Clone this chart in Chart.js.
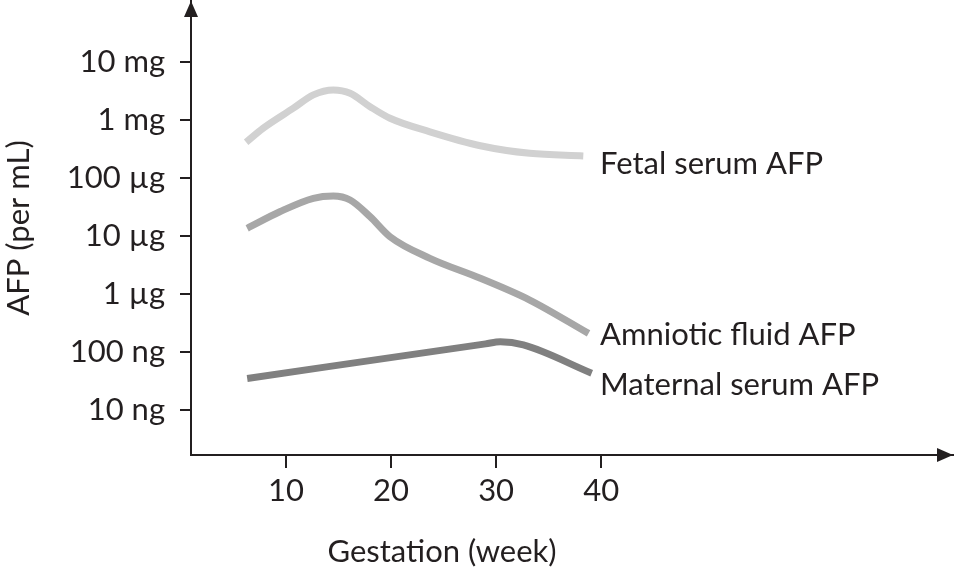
<!DOCTYPE html>
<html>
<head>
<meta charset="utf-8">
<script src="https://cdn.jsdelivr.net/npm/chart.js@4"></script>
<style>
  html, body { margin: 0; padding: 0; background: #fff; }
  #wrap { width: 954px; height: 568px; }
</style>
</head>
<body>
<div id="wrap"><canvas id="afpChart" width="954" height="568"></canvas></div>
<script>
// values (week, ng per mL)
const fetalWeeks = [6.2, 7.8, 10.7, 12.6, 14.5, 16.1, 18.0, 19.9, 23.7, 28.5, 33.2, 38.3];
const fetalValues = [410000, 710000, 1580000, 2680000, 3250000, 2860000, 1680000, 1060000, 620000, 357000, 264000, 238000];

const amnioticWeeks = [6.3, 9.4, 12.6, 14.5, 16.1, 18.0, 19.9, 23.7, 28.5, 33.2, 38.8];
const amnioticValues = [13500, 26000, 44400, 48600, 41500, 21400, 9660, 4100, 1860, 785, 209];

const maternalWeeks = [6.3, 29.0, 30.4, 32.6, 39.1];
const maternalValues = [35, 138, 150, 132, 43];

const seriesNames = ['Fetal serum AFP', 'Amniotic fluid AFP', 'Maternal serum AFP'];
const xTicks = [10, 20, 30, 40];
const yTicks = [1e1, 1e2, 1e3, 1e4, 1e5, 1e6, 1e7];
const yTickLabels = ['10 ng', '100 ng', '1 µg', '10 µg', '100 µg', '1 mg', '10 mg'];

const ink = '#231f20';
const fontFamily = 'Lato, "Open Sans", sans-serif';
const fontSize = 31;

const toPoints = (xs, ys) => xs.map((x, i) => ({ x: x, y: ys[i] }));

// arrowheads, axis title and the series names
const extrasPlugin = {
    id: 'extras',
    afterDraw(chart) {
        const ctx = chart.ctx;
        const area = chart.chartArea;
        ctx.save();
        ctx.fillStyle = ink;
        ctx.beginPath();
        ctx.moveTo(area.left, area.top);
        ctx.lineTo(area.left - 7, area.top + 16);
        ctx.lineTo(area.left + 7, area.top + 16);
        ctx.closePath();
        ctx.fill();
        ctx.beginPath();
        ctx.moveTo(area.right, area.bottom);
        ctx.lineTo(area.right - 16, area.bottom - 7);
        ctx.lineTo(area.right - 16, area.bottom + 7);
        ctx.closePath();
        ctx.fill();

        ctx.font = fontSize + 'px ' + fontFamily;
        ctx.textBaseline = 'alphabetic';
        ctx.textAlign = 'center';
        ctx.fillText('Gestation (week)', 442, 562);

        ctx.textAlign = 'left';
        const baselines = [174, 345, 395];
        seriesNames.forEach((name, i) => {
            ctx.fillText(name, 600, baselines[i]);
        });
        ctx.restore();
    }
};

const noEdgePadding = (scale) => {
    scale.paddingTop = 0;
    scale.paddingBottom = 0;
    scale.paddingLeft = 0;
    scale.paddingRight = 0;
};

const chart = new Chart(document.getElementById('afpChart'), {
    type: 'line',
    data: {
        datasets: [
            {
                label: seriesNames[0],
                data: toPoints(fetalWeeks, fetalValues),
                borderColor: '#d1d1d1'
            },
            {
                label: seriesNames[1],
                data: toPoints(amnioticWeeks, amnioticValues),
                borderColor: '#a7a7a7'
            },
            {
                label: seriesNames[2],
                data: toPoints(maternalWeeks, maternalValues),
                borderColor: '#808080'
            }
        ]
    },
    options: {
        responsive: false,
        animation: false,
        layout: { padding: { top: 1, right: 1, left: 0, bottom: 0 } },
        elements: {
            line: { borderWidth: 7, cubicInterpolationMode: 'monotone', borderCapStyle: 'butt', fill: false },
            point: { radius: 0, hoverRadius: 0 }
        },
        plugins: {
            legend: { display: false },
            tooltip: { enabled: false }
        },
        scales: {
            x: {
                type: 'linear',
                min: 0.95,
                max: 73.5,
                afterBuildTicks: (scale) => { scale.ticks = xTicks.map(v => ({ value: v })); },
                afterFit: (scale) => { scale.height = 113; noEdgePadding(scale); },
                grid: { drawOnChartArea: false, drawTicks: true, tickLength: 13, color: ink, lineWidth: 2 },
                border: { display: true, color: ink, width: 2 },
                ticks: {
                    color: ink,
                    padding: 4,
                    maxRotation: 0,
                    font: { family: fontFamily, size: fontSize }
                }
            },
            y: {
                type: 'logarithmic',
                min: 1.68,
                max: 1.11e8,
                afterBuildTicks: (scale) => { scale.ticks = yTicks.map(v => ({ value: v })); },
                afterFit: (scale) => { scale.width = 191; noEdgePadding(scale); },
                grid: { drawOnChartArea: false, drawTicks: true, tickLength: 11, color: ink, lineWidth: 2 },
                border: { display: true, color: ink, width: 2 },
                ticks: {
                    color: ink,
                    padding: 15,
                    font: { family: fontFamily, size: fontSize },
                    callback: (value) => {
                        const i = yTicks.indexOf(value);
                        return i >= 0 ? yTickLabels[i] : '';
                    }
                },
                title: {
                    display: true,
                    text: 'AFP (per mL)',
                    color: ink,
                    padding: 0,
                    font: { family: fontFamily, size: fontSize }
                }
            }
        }
    },
    plugins: [extrasPlugin]
});
</script>
</body>
</html>
